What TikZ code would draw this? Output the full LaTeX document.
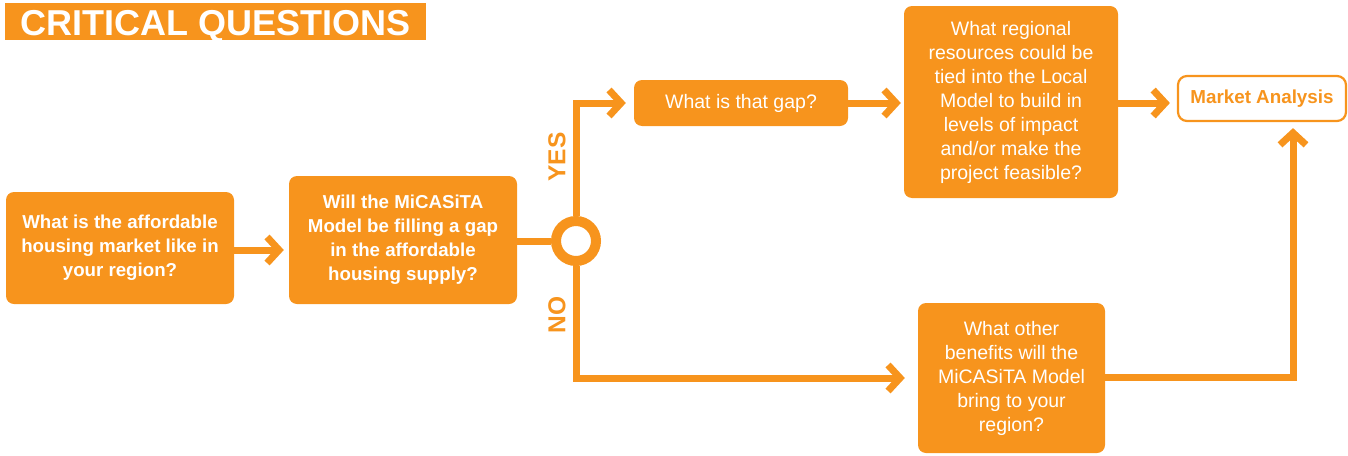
\documentclass[tikz,border=0pt]{standalone}
\usepackage{fontspec}
\setmainfont{Liberation Sans}
\usetikzlibrary{arrows.meta}
\definecolor{org}{HTML}{F7941D}
\begin{document}
\begin{tikzpicture}[x=1pt,y=-1pt,
  box/.style={fill=org,rounded corners=8pt,text=white,align=center,inner sep=0pt,
    font=\fontsize{19.5}{24}\selectfont},
  boldbox/.style={box,font=\fontsize{18.7}{24}\selectfont\bfseries},
  conn/.style={draw=org,line width=7pt,line join=miter},
  arr/.style={conn,-{Straight Barb[length=12pt,width=26pt,line width=7pt]}},
  lab/.style={text=org,font=\fontsize{24.5}{26}\selectfont\bfseries,rotate=90}]
\useasboundingbox (0,0) rectangle (1348,455);
\node[fill=org,minimum width=421pt,minimum height=37pt,inner sep=0pt,anchor=north west] (tbar) at (5,3) {};
\node[text=white,inner sep=0pt,anchor=base,font=\fontsize{36}{38}\selectfont\bfseries] (title)
  at (215.5,35) {CRITICAL QUESTIONS};
\node[boldbox,minimum width=228pt,minimum height=112pt] (b1) at (120,248)
  {What is the affordable\\housing market like in\\your region?};
\node[boldbox,minimum width=228pt,minimum height=128pt] (b2) at (403,240)
  {Will the MiCASiTA\\Model be filling a gap\\in the affordable\\housing supply?};
\node[box,minimum width=214pt,minimum height=46pt] (b3) at (741,103) {What is that gap?};
\node[box,minimum width=214pt,minimum height=192pt] (b4) at (1011,102)
  {What regional\\resources could be\\tied into the Local\\Model to build in\\levels of impact\\and/or make the\\project feasible?};
\node[draw=org,line width=2.2pt,fill=white,rounded corners=9pt,minimum width=168pt,minimum height=45pt,
  inner sep=0pt,text=org,font=\fontsize{18.8}{24}\selectfont\bfseries] (b5) at (1262,98.5) {Market Analysis};
\node[box,minimum width=187pt,minimum height=150pt] (b6) at (1011.5,378)
  {What other\\benefits will the\\MiCASiTA Model\\bring to your\\region?};
\node[circle,draw=org,line width=10pt,fill=white,minimum size=40pt,inner sep=0pt] (c) at (576,241) {};
\coordinate (a1) at (234,250);
\draw[arr,shorten >=5pt] (a1) -- (a1 -| b2.west);
\draw[conn] (b2.east |- c) -- (c.west);
\draw[arr,shorten >=8pt] (c.north) |- (b3.west);
\draw[arr,shorten >=13pt] (c.south) |- (b6.west);
\draw[arr,shorten >=3pt] (b3.east) -- (b3.east -| b4.west);
\draw[arr,shorten >=7pt] (b4.east |- b3.east) -- (b3.east -| b5.west);
\coordinate (up) at ([xshift=31pt]b5.south);
\coordinate (lo) at (1105,377);
\draw[arr,shorten >=6pt] (lo) -| (up);
\node[lab] (yes) at (557,157) {YES};
\node[lab] (no) at (557,315) {NO};
\end{tikzpicture}
\end{document}
